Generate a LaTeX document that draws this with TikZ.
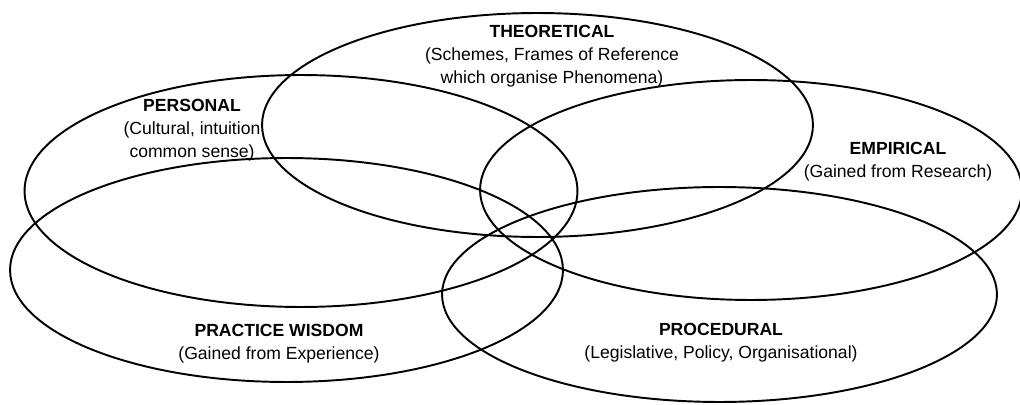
\documentclass[tikz,border=0pt]{standalone}
\usepackage{fontspec}
\setmainfont{Liberation Sans}
\usetikzlibrary{positioning}

\begin{document}
\begin{tikzpicture}[
    x=0.02cm, y=-0.02cm, % one unit = one pixel of the reference
    ring/.style={line width=1.1pt}, % Style for the five ellipses
    area/.style={align=center, font=\fontsize{10}{13}\selectfont, inner sep=1pt} % Style for the labels
]
    \useasboundingbox (0,0) rectangle (1020,405);

    % Ellipses
    \draw[ring] (537.5,125) ellipse [x radius=5.51cm, y radius=2.24cm]; % Theoretical
    \draw[ring] (301,191) ellipse [x radius=5.53cm, y radius=2.32cm]; % Personal
    \draw[ring] (751,190) ellipse [x radius=5.42cm, y radius=2.20cm]; % Empirical
    \draw[ring] (286.5,270) ellipse [x radius=5.53cm, y radius=2.24cm]; % Practice wisdom
    \draw[ring] (719.5,294.5) ellipse [x radius=5.55cm, y radius=2.15cm]; % Procedural

    % Labels
    \node[area] (theo) at (552,56) {\textbf{THEORETICAL}\\(Schemes, Frames of Reference\\which organise Phenomena)};
    \node[area] (pers) at (192,130) {\textbf{PERSONAL}\\(Cultural, intuition\\common sense)};
    \node[area] (emp) at (898,162) {\textbf{EMPIRICAL}\\(Gained from Research)};
    \node[area] (prac) at (279,344) {\textbf{PRACTICE WISDOM}\\(Gained from Experience)};
    \node[area] (proc) at (721,343) {\textbf{PROCEDURAL}\\(Legislative, Policy, Organisational)};

\end{tikzpicture}
\end{document}
